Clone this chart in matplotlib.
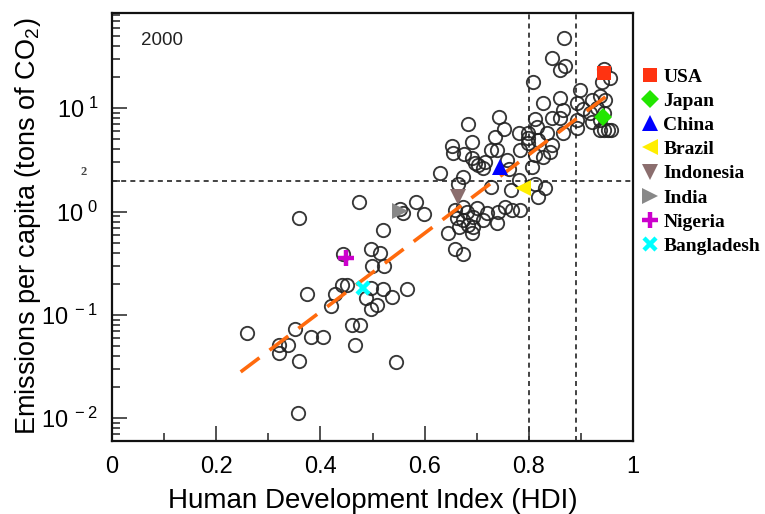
import numpy as np
import matplotlib
matplotlib.use('Agg')
import matplotlib.pyplot as plt
from matplotlib.lines import Line2D
from matplotlib.ticker import FixedLocator, LogLocator, MultipleLocator, NullFormatter
import matplotlib.transforms as mtransforms

plt.rcParams['font.family'] = ['Liberation Sans', 'DejaVu Sans']
plt.rcParams['mathtext.fontset'] = 'custom'
plt.rcParams['mathtext.rm'] = 'Liberation Sans'
plt.rcParams['mathtext.it'] = 'Liberation Sans:italic'
plt.rcParams['mathtext.bf'] = 'Liberation Sans:bold'

# ---------------- data ----------------
hdi = [0.259, 0.321, 0.321, 0.338, 0.351, 0.359, 0.357, 0.359, 0.374, 0.382,
       0.405, 0.420, 0.428, 0.441, 0.451, 0.443, 0.461, 0.476, 0.466, 0.474,
       0.497, 0.514, 0.499, 0.522, 0.520, 0.497, 0.520, 0.537, 0.566, 0.488,
       0.509, 0.497, 0.545, 0.553, 0.559, 0.583, 0.599,
       0.630, 0.674, 0.664, 0.658, 0.681, 0.693, 0.662, 0.683, 0.666, 0.645,
       0.691, 0.658, 0.674, 0.655, 0.676, 0.697, 0.683, 0.691, 0.653, 0.691,
       0.702, 0.674, 0.701, 0.674, 0.693,
       0.743, 0.752, 0.735, 0.781, 0.798, 0.798, 0.798, 0.812, 0.835, 0.727,
       0.739, 0.716, 0.758, 0.783, 0.812, 0.712, 0.762, 0.727, 0.766, 0.781,
       0.812, 0.818, 0.720, 0.741, 0.754, 0.768, 0.783, 0.712, 0.739, 0.831,
       0.808, 0.827, 0.818, 0.841, 0.827, 0.806, 0.816,
       0.868, 0.845, 0.869, 0.860, 0.898, 0.944, 0.940, 0.956, 0.860, 0.893,
       0.866, 0.921, 0.937, 0.904, 0.917, 0.931, 0.845, 0.860, 0.893, 0.921,
       0.937, 0.937, 0.944, 0.952, 0.958, 0.866, 0.893, 0.845, 0.946, 0.944]
emis = [0.0667, 0.051, 0.0427, 0.051, 0.0729, 0.0357, 0.0112, 0.865, 0.159, 0.061,
        0.061, 0.122, 0.159, 0.194, 0.194, 0.388, 0.0797, 0.0797, 0.051, 1.236,
        0.434, 0.397, 0.297, 0.297, 0.662, 0.182, 0.178, 0.149, 0.178, 0.145,
        0.124, 0.114, 0.0349, 1.06, 0.97, 1.236, 0.956,
        2.36, 2.16, 1.85, 1.03, 0.99, 0.885, 0.865, 0.740, 0.708, 0.619,
        0.619, 0.434, 0.388, 3.68, 3.60, 2.95, 7.03, 4.71, 4.31, 3.30,
        2.82, 1.11, 1.08, 0.827, 0.708,
        8.22, 6.29, 5.26, 5.75, 5.75, 5.15, 4.60, 7.85, 5.75, 3.94,
        3.94, 3.01, 3.15, 3.94, 3.52, 2.64, 2.58, 1.73, 1.61, 2.02,
        1.85, 1.38, 0.97, 0.99, 1.11, 1.03, 1.03, 0.827, 0.774, 1.69,
        17.9, 11.2, 4.92, 3.77, 3.37, 2.70, 6.58,
        47.8, 30.6, 25.6, 23.4, 15.0, 24.0, 17.9, 19.6, 12.6, 11.2,
        9.61, 12.0, 13.1, 9.83, 8.99, 10.0, 8.04, 8.04, 7.69, 7.35,
        7.69, 6.15, 6.15, 6.15, 6.15, 5.75, 6.43, 4.41, 12.0, 8.99]

countries = ['USA', 'Japan', 'China', 'Brazil', 'Indonesia', 'India', 'Nigeria', 'Bangladesh']
country_hdi = [0.944, 0.943, 0.745, 0.789, 0.665, 0.553, 0.450, 0.482]
country_emis = [21.8, 8.28, 2.72, 1.70, 1.39, 1.01, 0.352, 0.181]

fit_hdi = [0.247, 0.949]
fit_emis = [0.0281, 13.1]

threshold_hdi = [0.80, 0.89]
threshold_emis = 2.0

xticks = [0, 0.2, 0.4, 0.6, 0.8, 1]
xtick_labels = ['0', '0.2', '0.4', '0.6', '0.8', '1']
yticks = [0.01, 0.1, 1, 10]
ytick_labels = [r'$\mathregular{10^{\ -2}}$', r'$\mathregular{10^{\ -1}}$',
                r'$\mathregular{10^{\ 0}}$', r'$\mathregular{10^{\ 1}}$']
year_label = '2000'

# ---------------- styles ----------------
styles = {
    'USA': dict(marker='s', color='#ff3311', ms=10.5, mew=0),
    'Japan': dict(marker='D', color='#22e600', ms=9.5, mew=0),
    'China': dict(marker='^', color='#0000ff', ms=11.5, mew=0),
    'Brazil': dict(marker='<', color='#ffee00', ms=11.5, mew=0),
    'Indonesia': dict(marker='v', color='#8b6e6e', ms=11.5, mew=0),
    'India': dict(marker='>', color='#888888', ms=11.5, mew=0),
    'Nigeria': dict(marker='+', color='#cc00cc', ms=11.5, mew=3.2),
    'Bangladesh': dict(marker='x', color='#00ffff', ms=9, mew=3.2),
}

W, H = 765, 514
fig = plt.figure(figsize=(W / 100, H / 100), dpi=100)
L, R, T, B = 112, 633, 12.7, 440.7
ax = fig.add_axes([L / W, 1 - B / H, (R - L) / W, (B - T) / H])

ax.set_yscale('log')
ax.set_xlim(0, 1)
ax.set_ylim(10 ** -2.217, 10 ** 1.925)

# threshold lines
for xv in threshold_hdi:
    ax.axvline(xv, color='#222222', lw=1.2, ls=(0, (3, 2.5)), zorder=1)
ax.axhline(threshold_emis, color='#222222', lw=1.2, ls=(0, (3, 2.5)), zorder=1)

# scatter circles
ax.plot(hdi, emis, ls='none', marker='o', ms=9.6, mfc='none', mec='#222222',
        mew=1.35, alpha=0.9, zorder=2)

# fit line
ax.plot(fit_hdi, fit_emis, color='#ff6a0d', lw=2.6, ls=(0, (6.5, 3.5)), zorder=3)

# country markers
handles = []
for c, xv, yv in zip(countries, country_hdi, country_emis):
    st = styles[c]
    ax.plot([xv], [yv], ls='none', marker=st['marker'], color=st['color'],
            ms=st['ms'], mew=st['mew'], zorder=4)
    handles.append(Line2D([], [], ls='none', marker=st['marker'], color=st['color'],
                          ms=st['ms'] * 0.95, mew=st['mew'], label=c))

# ticks
ax.xaxis.set_major_locator(FixedLocator(xticks))
ax.set_xticklabels(xtick_labels, fontsize=17)
ax.xaxis.set_minor_locator(MultipleLocator(0.1))
ax.yaxis.set_major_locator(FixedLocator(yticks))
ax.set_yticklabels(ytick_labels, fontsize=17)
ax.yaxis.set_minor_locator(LogLocator(base=10, subs=np.arange(2, 10)))
ax.yaxis.set_minor_formatter(NullFormatter())
ax.tick_params(which='both', direction='in', top=False, right=False, color='#333333')
ax.tick_params(which='major', length=11, width=1.2)
ax.tick_params(which='minor', length=6, width=1.2)
ax.tick_params(axis='x', which='major', pad=11)
ax.tick_params(axis='y', which='major', pad=10)
for s in ax.spines.values():
    s.set_linewidth(1.6)
    s.set_color('#111111')

ax.set_xlabel('Human Development Index (HDI)', fontsize=20, labelpad=7)
ax.set_ylabel(r'Emissions per capita (tons of CO$_2$)', fontsize=19.5, labelpad=-1)

ax.text(0.056, 0.935, year_label, transform=ax.transAxes, fontsize=13.5,
        ha='left', va='center', color='#222222')

trans = mtransforms.blended_transform_factory(ax.transAxes, ax.transData)
ax.text(-0.054, threshold_emis * 1.2, '2', transform=trans, fontsize=9,
        family=['Liberation Serif', 'DejaVu Serif'], fontweight='bold',
        color='#444444', ha='center', va='center')

fig.legend(handles=handles, loc='upper left', bbox_to_anchor=(641 / W, 1 - 68 / H),
           frameon=False, borderpad=0, borderaxespad=0, handlelength=0.9,
           handletextpad=0.25, labelspacing=0.34,
           prop={'family': ['Liberation Serif', 'DejaVu Serif'], 'weight': 'bold', 'size': 14})

fig.savefig('out.png', dpi=100)
